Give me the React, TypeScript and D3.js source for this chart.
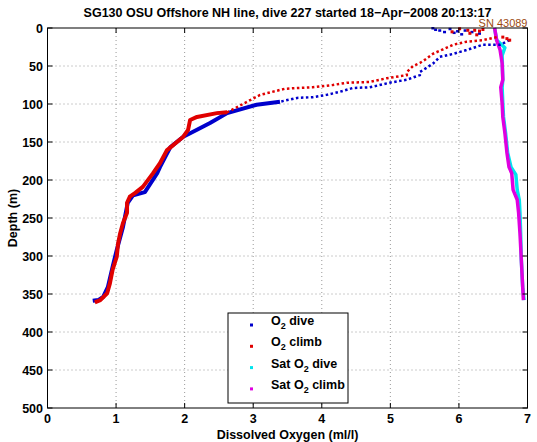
import React from "react";
import * as d3 from "d3";

// ---- axis ticks ----
const xTicks = [0, 1, 2, 3, 4, 5, 6, 7];
const yTicks = [0, 50, 100, 150, 200, 250, 300, 350, 400, 450, 500];

// ---- O2 dive (blue) ----
const diveDepth = [16, 22, 22, 29, 34, 38, 47, 58, 62, 68, 72, 78, 79, 84, 88, 91, 92, 97, 101, 112, 125, 134, 143, 157, 183, 191, 216, 220, 230, 262, 292, 314, 341, 354, 358, 359];
const diveO2 = [6.74, 6.6, 6.35, 6.11, 5.92, 5.72, 5.62, 5.43, 5.43, 5.24, 4.99, 4.7, 4.45, 4.26, 4.07, 3.87, 3.64, 3.39, 3.05, 2.62, 2.37, 2.18, 1.98, 1.79, 1.64, 1.6, 1.42, 1.25, 1.17, 1.1, 1.01, 0.95, 0.88, 0.81, 0.74, 0.66];
const diveSurfDepth = [0, 3, 1, 4, 3, 5, 7, 5, 8, 2, 6];
const diveSurfO2 = [5.62, 5.72, 5.87, 5.98, 6.09, 6.19, 6.3, 5.79, 6.04, 5.66, 5.93];

// ---- O2 climb (red) ----
const climbDepth = [12, 16, 18, 22, 28, 34, 42, 46, 50, 58, 62, 66, 71, 72, 75, 78, 79, 80, 88, 111, 112, 117, 121, 134, 143, 161, 178, 183, 191, 209, 217, 222, 230, 243, 257, 270, 283, 301, 318, 336, 349, 358, 361];
const climbO2 = [6.55, 6.35, 6.11, 5.92, 5.77, 5.62, 5.5, 5.43, 5.33, 5.24, 5.24, 4.95, 4.7, 4.37, 4.16, 3.87, 3.64, 3.46, 3.1, 2.62, 2.47, 2.18, 2.08, 2.05, 1.98, 1.74, 1.64, 1.6, 1.54, 1.39, 1.28, 1.2, 1.16, 1.16, 1.1, 1.06, 1.03, 1.01, 0.95, 0.91, 0.87, 0.77, 0.69];
const climbSurfDepth = [1, 3, 3, 4, 7, 9, 12, 14, 16, 2, 5];
const climbSurfO2 = [6.01, 6.13, 6.23, 6.3, 6.16, 6.26, 6.64, 6.7, 6.74, 6.35, 5.9];

// ---- Sat O2 dive (cyan) ----
const satDiveDepth = [0, 16, 26, 36, 68, 78, 99, 117, 138, 164, 183, 193, 213, 226, 243, 270, 305, 341, 358];
const satDiveO2 = [6.52, 6.55, 6.67, 6.63, 6.64, 6.63, 6.64, 6.65, 6.68, 6.71, 6.76, 6.83, 6.85, 6.88, 6.89, 6.9, 6.91, 6.93, 6.95];

// ---- Sat O2 climb (magenta) ----
const satClimbDepth = [0, 16, 29, 46, 68, 78, 99, 117, 138, 164, 183, 191, 213, 226, 243, 270, 305, 341, 358];
const satClimbO2 = [6.52, 6.55, 6.6, 6.63, 6.64, 6.61, 6.63, 6.64, 6.67, 6.7, 6.73, 6.77, 6.79, 6.85, 6.87, 6.89, 6.91, 6.93, 6.94];

const legendLabels = [
  ["O", "2", " dive"],
  ["O", "2", " climb"],
  ["Sat O", "2", " dive"],
  ["Sat O", "2", " climb"],
];
const legendColors = ["#0000cc", "#e00000", "#00e5ee", "#e000e0"];

const W = 537;
const H = 442;
const L = 47.5, R = 527.5, T = 28, B = 408;
const FONT = "'Liberation Sans', Arial, Helvetica, sans-serif";

export default function App() {
  const x = d3.scaleLinear().domain([0, 7]).range([L, R]);
  const y = d3.scaleLinear().domain([0, 500]).range([T, B]);

  const mkLine = (dep: number[], o2: number[], lo: number, hi: number) => {
    const idx = d3.range(dep.length).filter((i) => dep[i] >= lo && dep[i] <= hi);
    return (
      d3
        .line<number>()
        .x((i) => x(o2[i]))
        .y((i) => y(dep[i]))(idx) || ""
    );
  };

  return (
    <svg
      width={W}
      height={H}
      style={{ position: "absolute", left: 0, top: 0, background: "#fff" }}
      fontFamily={FONT}
    >
      <rect x={0} y={0} width={W} height={H} fill="#fff" />
      <defs>
        <clipPath id="plot">
          <rect x={L} y={T - 4} width={R - L + 2} height={B - T + 4} />
        </clipPath>
      </defs>
      {/* grid */}
      {xTicks.slice(1, -1).map((t) => (
        <line key={"gx" + t} x1={x(t)} x2={x(t)} y1={T} y2={B} stroke="#999" strokeDasharray="1 3" />
      ))}
      {yTicks.slice(1, -1).map((t) => (
        <line key={"gy" + t} x1={L} x2={R} y1={y(t)} y2={y(t)} stroke="#999" strokeDasharray="1 3" />
      ))}
      <g clipPath="url(#plot)">
        {/* Sat O2 */}
        <path d={mkLine(satDiveDepth, satDiveO2, 0, 500)} fill="none" stroke={legendColors[2]} strokeWidth={3.5} strokeLinejoin="round" />
        <path d={mkLine(satClimbDepth, satClimbO2, 0, 500)} fill="none" stroke={legendColors[3]} strokeWidth={3.5} strokeLinejoin="round" />
        {/* dive */}
        <path d={mkLine(diveDepth, diveO2, 0, 101)} fill="none" stroke={legendColors[0]} strokeWidth={2.5} strokeDasharray="2.5 2.5" />
        <path d={mkLine(diveDepth, diveO2, 97, 500)} fill="none" stroke={legendColors[0]} strokeWidth={4} strokeLinejoin="round" />
        {diveSurfDepth.map((d, i) => (
          <rect key={"ds" + i} x={x(diveSurfO2[i]) - 1.5} y={y(d) - 1} width={3} height={2.5} fill={legendColors[0]} />
        ))}
        {/* climb */}
        <path d={mkLine(climbDepth, climbO2, 0, 112)} fill="none" stroke={legendColors[1]} strokeWidth={2.5} strokeDasharray="2.5 2.5" />
        <path d={mkLine(climbDepth, climbO2, 110, 500)} fill="none" stroke={legendColors[1]} strokeWidth={4} strokeLinejoin="round" />
        {climbSurfDepth.map((d, i) => (
          <rect key={"cs" + i} x={x(climbSurfO2[i]) - 1.5} y={y(d) - 1.5} width={3} height={3} fill={legendColors[1]} />
        ))}
      </g>
      {/* axes box */}
      <rect x={L} y={T} width={R - L} height={B - T} fill="none" stroke="#000" strokeWidth={1} />
      {xTicks.map((t) => (
        <g key={"xt" + t}>
          <line x1={x(t)} x2={x(t)} y1={B} y2={B - 5} stroke="#000" />
          <line x1={x(t)} x2={x(t)} y1={T} y2={T + 5} stroke="#000" />
          <text x={x(t)} y={423} textAnchor="middle" fontSize={12.5} fontWeight="bold">
            {t}
          </text>
        </g>
      ))}
      {yTicks.map((t) => (
        <g key={"yt" + t}>
          <line x1={L} x2={L + 5} y1={y(t)} y2={y(t)} stroke="#000" />
          <line x1={R} x2={R - 5} y1={y(t)} y2={y(t)} stroke="#000" />
          <text x={43} y={y(t) + 4.5} textAnchor="end" fontSize={12.5} fontWeight="bold">
            {t}
          </text>
        </g>
      ))}
      {/* title */}
      <text x={(L + R) / 2} y={17} textAnchor="middle" fontSize={12.5} fontWeight="bold">
        SG130 OSU Offshore NH line, dive 227 started 18−Apr−2008 20:13:17
      </text>
      <text x={R} y={27} textAnchor="end" fontSize={11} fill="#9c4a10">
        SN 43089
      </text>
      <text x={(L + R) / 2} y={439} textAnchor="middle" fontSize={12.5} fontWeight="bold">
        Dissolved Oxygen (ml/l)
      </text>
      <text transform={`translate(17,${(T + B) / 2}) rotate(-90)`} textAnchor="middle" fontSize={12.5} fontWeight="bold">
        Depth (m)
      </text>
      {/* legend */}
      <rect x={228} y={313} width={120} height={90} fill="#fff" stroke="#000" strokeWidth={1} />
      {legendLabels.map((lab, i) => {
        const yy = 325 + i * 21.3;
        return (
          <g key={"lg" + i}>
            <rect x={250} y={yy - 1.5} width={3} height={3} fill={legendColors[i]} />
            <text x={271} y={yy} fontSize={12.5} fontWeight="bold">
              <tspan>{lab[0]}</tspan>
              <tspan dy={4} fontSize={9}>
                {lab[1]}
              </tspan>
              <tspan dy={-4}>{lab[2]}</tspan>
            </text>
          </g>
        );
      })}
    </svg>
  );
}
